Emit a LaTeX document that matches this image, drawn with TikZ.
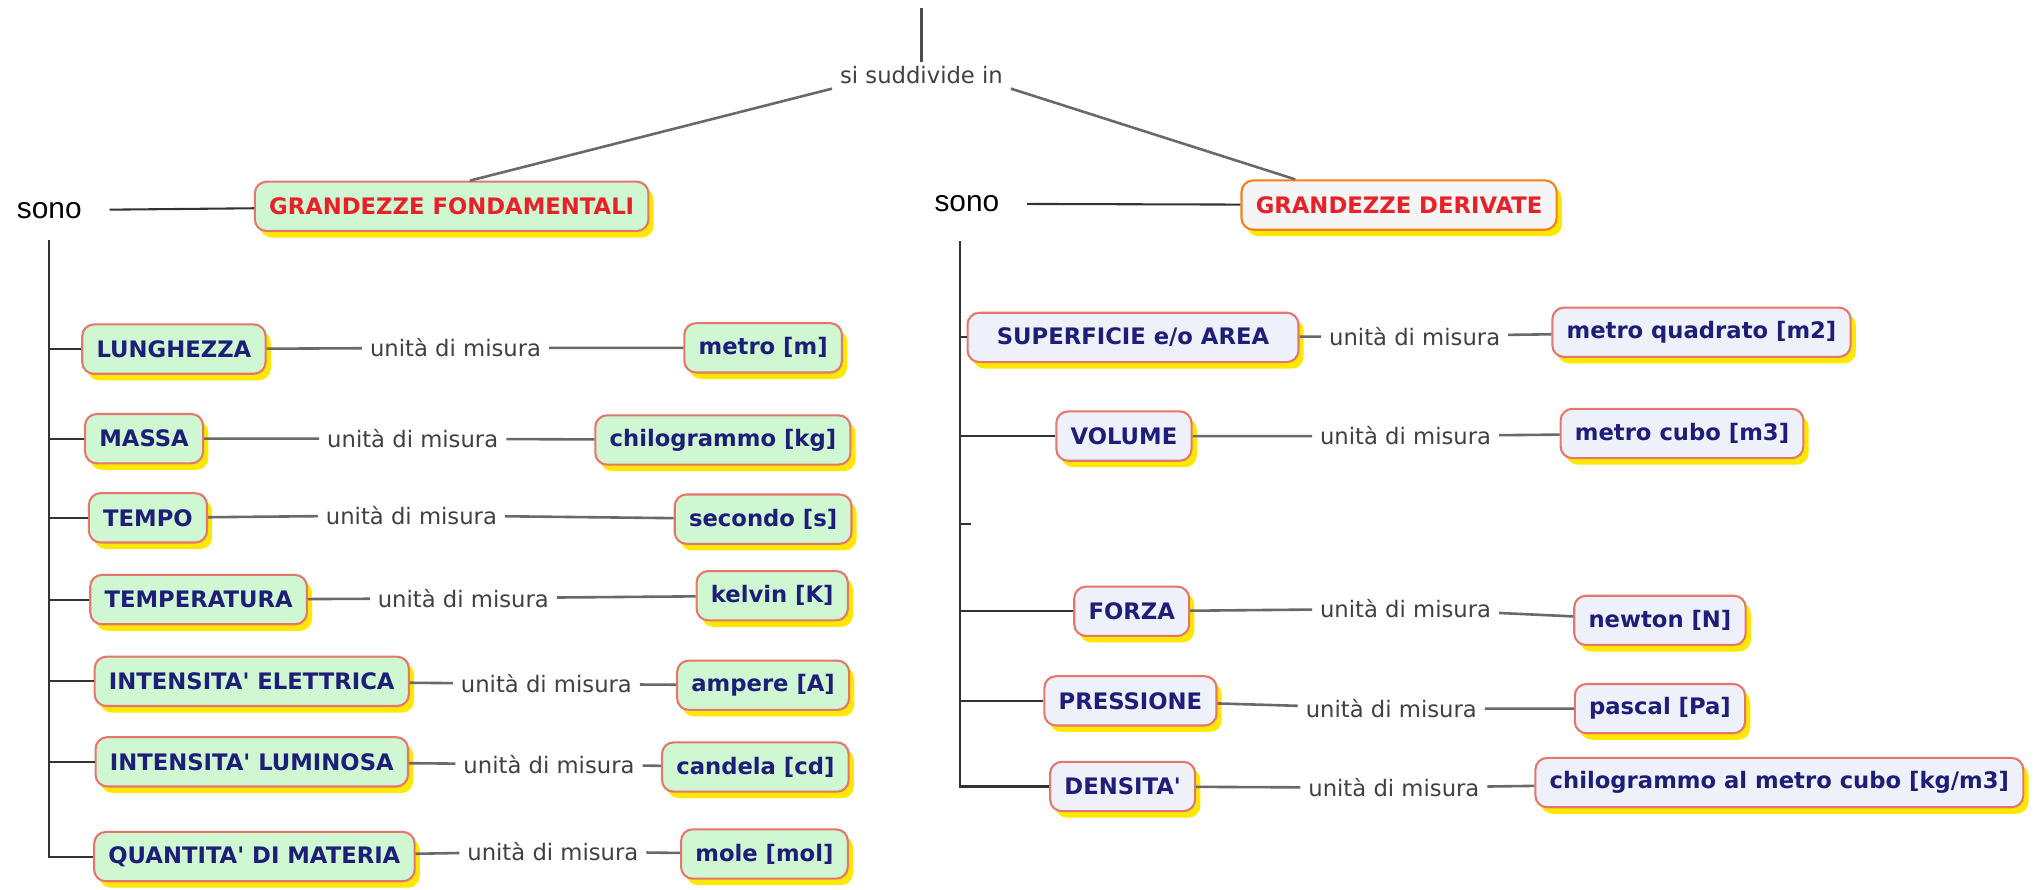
\documentclass[tikz,border=0pt]{standalone}
\usepackage{fontspec}
\usetikzlibrary{shadows}
\newfontfamily\boxfont[Ligatures=TeXOff]{DejaVu Sans}
\newfontfamily\sonofont{Liberation Sans}
\definecolor{mint}{RGB}{206,247,210}
\definecolor{pale}{RGB}{238,240,250}
\definecolor{rim}{RGB}{228,118,108}
\definecolor{navy}{RGB}{30,30,120}
\definecolor{hdred}{RGB}{232,32,40}
\definecolor{shade}{RGB}{255,232,0}
\definecolor{wiregray}{RGB}{105,105,105}

\begin{document}
\begin{tikzpicture}[x=1pt,y=-1pt,
    qbox/.style={draw=rim, line width=1.6pt, rounded corners=9pt, fill=mint,
      minimum height=38pt, inner xsep=11pt, text=navy,
      font=\boxfont\bfseries\fontsize{17.5}{20}\selectfont,
      drop shadow={fill=shade, shadow xshift=4pt, shadow yshift=-5pt, opacity=1}},
    dbox/.style={qbox, fill=pale},
    lbl/.style={font=\boxfont\fontsize{17.5}{20}\selectfont, text=black!75, inner xsep=6pt},
    link/.style={draw=wiregray, line width=2pt},
    bus/.style={draw=black!80, line width=1.6pt}]
  \useasboundingbox (0,0) rectangle (1568,685);

  % top of the map
  \coordinate (top) at (710,6);
  \node[lbl] (sud) at (710,58) {si suddivide in};
  \node[qbox, text=hdred] (gf) at (348,159) {GRANDEZZE FONDAMENTALI};
  \node[dbox, fill=black!4, draw=orange!70!rim, text=hdred] (gd) at (1078,158) {GRANDEZZE DERIVATE};
  \draw[link, draw=black!70] (top) -- (sud);
  \draw[link] (sud.south west) -- ([xshift=14pt]gf.north);
  \draw[link] (sud.south east) -- ([xshift=-80pt]gd.north);

  \node[font=\sonofont\fontsize{23}{26}\selectfont] (sonoL) at (38,162) {sono};
  \node[font=\sonofont\fontsize{23}{26}\selectfont] (sonoR) at (745,157) {sono};
  \draw[bus, shorten <=18pt] (sonoL) -- (gf);
  \draw[bus, shorten <=18pt] (sonoR) -- (gd);

  % fondamentali
  \node[qbox] (q1) at (134,269) {LUNGHEZZA};
  \node[qbox] (q2) at (111,338) {MASSA};
  \node[qbox] (q3) at (114,399) {TEMPO};
  \node[qbox] (q4) at (153,462) {TEMPERATURA};
  \node[qbox] (q5) at (194,525) {INTENSITA' ELETTRICA};
  \node[qbox] (q6) at (194,587) {INTENSITA' LUMINOSA};
  \node[qbox] (q7) at (196,660) {QUANTITA' DI MATERIA};

  \node[qbox] (u1) at (588,268) {metro [m]};
  \node[qbox] (u2) at (557,339) {chilogrammo [kg]};
  \node[qbox] (u3) at (588,400) {secondo [s]};
  \node[qbox] (u4) at (595,459) {kelvin [K]};
  \node[qbox] (u5) at (588,528) {ampere [A]};
  \node[qbox] (u6) at (582,591) {candela [cd]};
  \node[qbox] (u7) at (589,658) {mole [mol]};

  \node[lbl] (l1) at (351,268) {unità di misura};
  \node[lbl] (l2) at (318,338) {unità di misura};
  \node[lbl] (l3) at (317,397) {unità di misura};
  \node[lbl] (l4) at (357,461) {unità di misura};
  \node[lbl] (l5) at (421,527) {unità di misura};
  \node[lbl] (l6) at (423,589) {unità di misura};
  \node[lbl] (l7) at (426,656) {unità di misura};

  \draw[link] (q1) -- (l1) -- (u1);
  \draw[link] (q2) -- (l2) -- (u2);
  \draw[link] (q3) -- (l3) -- (u3);
  \draw[link] (q4) -- (l4) -- (u4);
  \draw[link] (q5) -- (l5) -- (u5);
  \draw[link] (q6) -- (l6) -- (u6);
  \draw[link] (q7) -- (l7) -- (u7);

  \coordinate (busL) at (38,185);
  \draw[bus] (busL) |- (q7.west);
  \draw[bus] (busL |- q1.west) -- (q1.west);
  \draw[bus] (busL |- q2.west) -- (q2.west);
  \draw[bus] (busL |- q3.west) -- (q3.west);
  \draw[bus] (busL |- q4.west) -- (q4.west);
  \draw[bus] (busL |- q5.west) -- (q5.west);
  \draw[bus] (busL |- q6.west) -- (q6.west);

  % derivate
  \node[dbox, minimum width=255pt] (d1) at (873,260) {SUPERFICIE e/o AREA};
  \node[dbox] (d2) at (866,336) {VOLUME};
  \node[dbox] (d3) at (872,471) {FORZA};
  \node[dbox] (d4) at (871,540) {PRESSIONE};
  \node[dbox] (d5) at (865,606) {DENSITA'};

  \node[dbox] (v1) at (1311,256) {metro quadrato [m2]};
  \node[dbox] (v2) at (1296,334) {metro cubo [m3]};
  \node[dbox] (v3) at (1279,478) {newton [N]};
  \node[dbox] (v4) at (1279,546) {pascal [Pa]};
  \node[dbox] (v5) at (1371,603) {chilogrammo al metro cubo [kg/m3]};

  \node[lbl] (m1) at (1090,259) {unità di misura};
  \node[lbl] (m2) at (1083,336) {unità di misura};
  \node[lbl] (m3) at (1083,469) {unità di misura};
  \node[lbl] (m4) at (1072,546) {unità di misura};
  \node[lbl] (m5) at (1074,607) {unità di misura};

  \draw[link] (d1) -- (m1) -- (v1);
  \draw[link] (d2) -- (m2) -- (v2);
  \draw[link] (d3) -- (m3) -- (v3);
  \draw[link] (d4) -- (m4) -- (v4);
  \draw[link] (d5) -- (m5) -- (v5);

  \coordinate (busR) at (740,186);
  \coordinate (stub) at (748,404);
  \draw[bus] (busR) |- (d5.west);
  \draw[bus] (busR |- d1.west) -- (d1.west);
  \draw[bus] (busR |- d2.west) -- (d2.west);
  \draw[bus] (busR |- stub) -- (stub);
  \draw[bus] (busR |- d3.west) -- (d3.west);
  \draw[bus] (busR |- d4.west) -- (d4.west);
\end{tikzpicture}
\end{document}
